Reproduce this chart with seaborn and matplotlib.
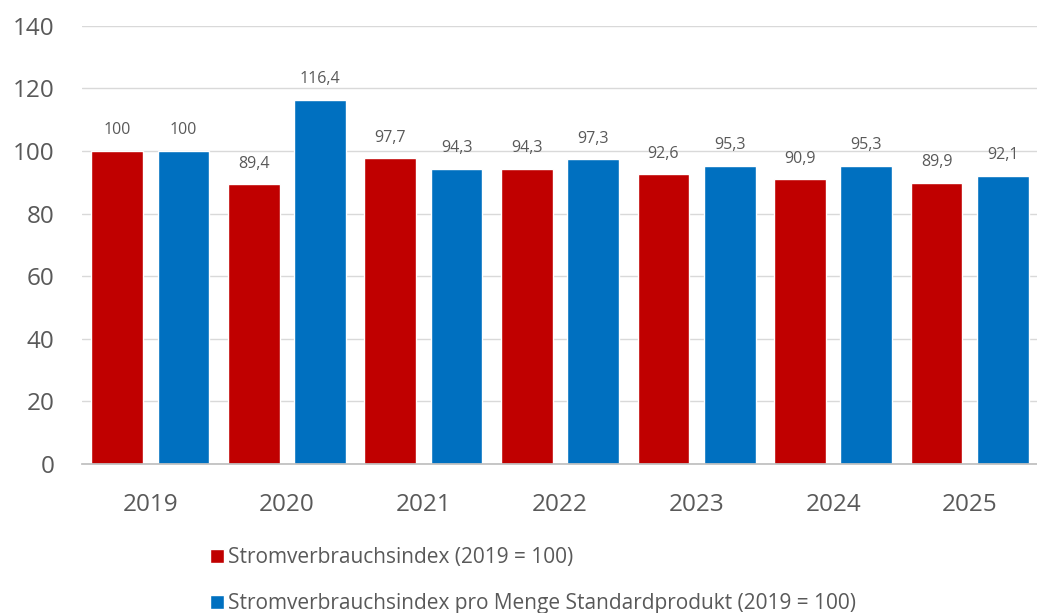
import matplotlib
matplotlib.use("Agg")
import matplotlib.pyplot as plt
import pandas as pd
import seaborn as sns

YEARS = ["2019", "2020", "2021", "2022", "2023", "2024", "2025"]
STROM_INDEX = [100, 89.4, 97.7, 94.3, 92.6, 90.9, 89.9]
STROM_PRO_MENGE = [100, 116.4, 94.3, 97.3, 95.3, 95.3, 92.1]
SERIES_NAMES = [
    "Stromverbrauchsindex (2019 = 100)",
    "Stromverbrauchsindex pro Menge Standardprodukt (2019 = 100)",
]
Y_TICKS = [0, 20, 40, 60, 80, 100, 120, 140]

RED = "#C00000"
BLUE = "#0070C0"
TEXT_GREY = "#595959"

df = pd.DataFrame({
    "Jahr": YEARS * 2,
    "Wert": STROM_INDEX + STROM_PRO_MENGE,
    "Serie": [SERIES_NAMES[0]] * len(YEARS) + [SERIES_NAMES[1]] * len(YEARS),
})

sns.set_theme(style="white")
plt.rcParams["font.family"] = ["Open Sans", "DejaVu Sans"]

fig = plt.figure(figsize=(10.37, 6.13), dpi=100)
ax = fig.add_axes([0.079, 0.243, 0.922, 0.715])

sns.barplot(
    data=df, x="Jahr", y="Wert", hue="Serie",
    palette=[RED, BLUE], width=0.97, gap=0.22,
    saturation=1, ax=ax, legend=True,
)

for container in ax.containers:
    ax.bar_label(
        container,
        labels=[f"{v:g}".replace(".", ",") for v in container.datavalues],
        padding=9, fontsize=11.5, color=TEXT_GREY,
    )

ax.set_ylim(0, 140)
ax.set_yticks(Y_TICKS)
ax.set_xlim(-0.5, 6.5)
ax.yaxis.grid(True, color="#D9D9D9", linewidth=1)
ax.set_axisbelow(True)
ax.tick_params(axis="both", length=0, labelsize=17.5, labelcolor=TEXT_GREY)
ax.tick_params(axis="x", pad=21)
ax.tick_params(axis="y", pad=20)
ax.set_xlabel("")
ax.set_ylabel("")
for side in ["left", "right", "top"]:
    ax.spines[side].set_visible(False)
ax.spines["bottom"].set_color("#BFBFBF")

handles, labels = ax.get_legend_handles_labels()
ax.get_legend().remove()
fig.legend(
    handles, labels, loc="upper left", bbox_to_anchor=(0.2025, 0.107),
    frameon=False, fontsize=15, labelcolor=TEXT_GREY,
    handlelength=0.67, handleheight=0.67, handletextpad=0.2,
    labelspacing=1.2, borderaxespad=0, borderpad=0,
)

fig.savefig("out.png", dpi=100)
